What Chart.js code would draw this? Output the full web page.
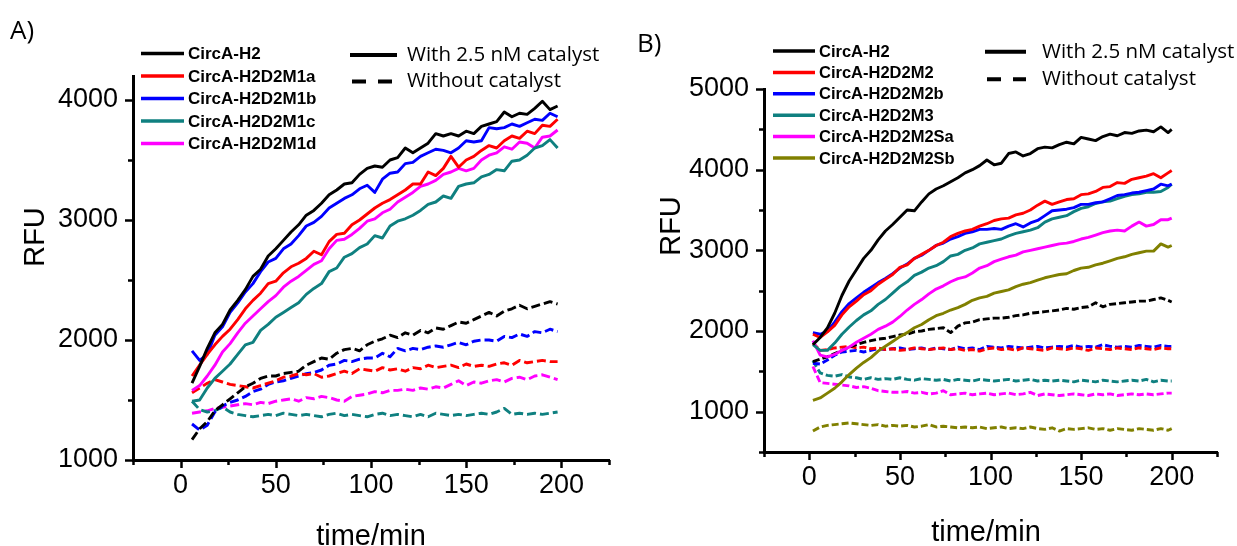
<!DOCTYPE html>
<html><head><meta charset="utf-8">
<script src="https://cdn.jsdelivr.net/npm/chart.js@4.4.0/dist/chart.umd.min.js"></script>
<style>
html,body{margin:0;padding:0;background:#fff;width:1237px;height:546px;overflow:hidden}
#ca{position:absolute;left:0;top:0}
#cb{position:absolute;left:620px;top:0}
</style></head><body>
<canvas id="ca" width="620" height="546"></canvas>
<canvas id="cb" width="617" height="546"></canvas>
<script>
// ---------- Panel A data ----------
const tA = [6,10,14,18,22,26,30,34,38,42,46,50,54,58,62,66,70,74,78,82,86,90,94,98,102,106,110,114,118,122,126,130,134,138,142,146,150,154,158,162,166,170,174,178,182,186,190,194,198];
const A_H2    = [1640,1780,1930,2060,2130,2250,2330,2420,2530,2590,2700,2760,2830,2900,2960,3040,3080,3140,3210,3250,3300,3310,3380,3430,3450,3440,3500,3520,3600,3560,3600,3640,3720,3700,3720,3700,3740,3720,3780,3800,3820,3900,3860,3890,3880,3930,3990,3920,3950];
const A_M1a   = [1700,1790,1880,1960,2030,2090,2170,2260,2330,2390,2470,2490,2560,2610,2640,2680,2740,2710,2820,2880,2890,2960,3000,3050,3100,3140,3170,3210,3250,3300,3300,3400,3370,3430,3530,3440,3500,3530,3580,3620,3600,3660,3700,3680,3740,3720,3790,3780,3840];
const A_M1b   = [1910,1830,1880,2040,2110,2230,2310,2400,2470,2570,2650,2680,2760,2800,2870,2950,2980,3030,3100,3140,3180,3210,3260,3290,3230,3340,3390,3400,3470,3480,3530,3560,3590,3580,3560,3600,3660,3650,3660,3770,3760,3770,3800,3780,3810,3840,3830,3890,3860];
const A_M1c   = [1490,1500,1600,1680,1740,1800,1880,1960,1980,2080,2130,2190,2230,2270,2310,2380,2430,2470,2570,2600,2690,2720,2770,2800,2870,2850,2950,2990,3010,3040,3080,3130,3150,3200,3180,3280,3300,3310,3360,3380,3420,3410,3490,3500,3540,3600,3620,3670,3600];
const A_M1d   = [1580,1620,1700,1790,1900,1970,2060,2140,2200,2260,2320,2370,2440,2490,2530,2580,2630,2660,2760,2830,2840,2880,2930,2990,3010,3060,3090,3150,3190,3230,3280,3300,3330,3380,3400,3430,3410,3430,3500,3540,3560,3610,3590,3650,3640,3600,3690,3700,3750];
const A_H2_n  = [1170,1260,1320,1410,1460,1510,1560,1610,1640,1680,1700,1700,1720,1730,1740,1790,1820,1850,1840,1890,1920,1930,1910,1960,1990,2010,2040,2020,2060,2040,2080,2060,2100,2090,2120,2150,2140,2170,2200,2230,2200,2240,2260,2290,2260,2280,2300,2320,2300];
const A_M1a_n = [1560,1600,1640,1670,1650,1630,1620,1610,1600,1620,1640,1660,1690,1700,1720,1710,1720,1690,1700,1720,1740,1720,1760,1750,1740,1770,1750,1760,1740,1770,1760,1790,1770,1780,1790,1770,1800,1780,1790,1780,1800,1810,1790,1830,1810,1820,1830,1820,1820];
const A_M1b_n = [1300,1250,1290,1400,1450,1480,1500,1530,1570,1590,1630,1650,1660,1680,1700,1720,1730,1750,1790,1800,1830,1820,1840,1850,1850,1890,1860,1930,1910,1930,1920,1940,1950,1940,1960,1980,1960,1990,2000,2000,1990,2030,2020,2050,2030,2070,2060,2090,2070];
const A_M1c_n = [1490,1420,1400,1410,1440,1400,1380,1370,1360,1370,1380,1370,1390,1380,1370,1380,1370,1360,1380,1390,1370,1380,1370,1360,1380,1390,1370,1380,1370,1360,1380,1360,1390,1380,1370,1380,1370,1380,1390,1380,1400,1430,1380,1390,1380,1390,1380,1390,1400];
const A_M1d_n = [1390,1400,1410,1430,1440,1450,1460,1470,1460,1480,1470,1490,1500,1510,1490,1520,1510,1530,1520,1500,1490,1530,1540,1550,1570,1560,1580,1580,1590,1580,1600,1590,1610,1600,1630,1660,1620,1650,1640,1660,1670,1650,1680,1690,1670,1700,1710,1690,1670];

// ---------- Panel B data ----------
const tB = [2,6,10,14,18,22,26,30,34,38,42,46,50,54,58,62,66,70,74,78,82,86,90,94,98,102,106,110,114,118,122,126,130,134,138,142,146,150,154,158,162,166,170,174,178,182,186,190,194,198,200];
const B_H2    = [1830,1920,2040,2220,2440,2620,2760,2900,3000,3130,3240,3320,3410,3500,3490,3600,3700,3760,3800,3850,3900,3960,4000,4050,4120,4060,4080,4200,4220,4170,4200,4260,4280,4270,4310,4340,4320,4400,4380,4360,4410,4440,4420,4460,4450,4480,4490,4470,4530,4460,4500];
const B_M2    = [1960,1920,1990,2070,2200,2300,2370,2450,2500,2580,2640,2700,2790,2820,2900,2950,3000,3060,3100,3170,3210,3240,3260,3300,3330,3370,3390,3400,3440,3460,3500,3560,3610,3570,3600,3630,3640,3690,3700,3730,3780,3790,3840,3830,3880,3900,3920,3950,3900,3960,3990];
const B_M2b   = [1980,1960,2000,2110,2240,2340,2410,2480,2540,2600,2650,2710,2780,2830,2900,2940,3000,3060,3090,3140,3170,3210,3230,3260,3260,3270,3260,3300,3330,3290,3340,3370,3430,3490,3500,3510,3530,3570,3570,3590,3600,3640,3680,3690,3710,3720,3740,3760,3820,3800,3820];
const B_M3    = [1830,1760,1760,1850,1960,2050,2130,2200,2250,2330,2390,2470,2550,2610,2690,2730,2780,2810,2860,2930,2950,3000,3030,3080,3100,3120,3140,3180,3210,3230,3250,3280,3350,3390,3410,3430,3480,3520,3540,3580,3600,3610,3640,3670,3690,3700,3720,3720,3730,3780,3820];
const B_M2Sa  = [1880,1700,1680,1710,1760,1800,1860,1910,1960,2020,2060,2110,2180,2260,2330,2390,2460,2520,2560,2610,2650,2670,2720,2780,2810,2860,2890,2920,2940,2980,3000,3020,3040,3060,3080,3090,3110,3140,3160,3190,3220,3240,3250,3240,3300,3350,3300,3320,3380,3380,3400];
const B_M2Sb  = [1140,1170,1230,1290,1370,1460,1540,1610,1670,1750,1810,1870,1930,1980,2040,2080,2140,2190,2220,2260,2290,2330,2380,2410,2430,2470,2490,2510,2550,2580,2600,2630,2660,2680,2700,2710,2750,2780,2790,2820,2840,2870,2900,2920,2950,2970,2990,2990,3080,3040,3060];
const B_H2_n  = [1620,1650,1680,1720,1760,1800,1830,1860,1880,1900,1910,1930,1950,1960,1990,2000,2020,2030,2040,1980,2060,2100,2110,2140,2150,2160,2160,2170,2190,2200,2220,2230,2240,2250,2260,2280,2270,2290,2300,2350,2300,2330,2340,2350,2360,2370,2370,2390,2410,2380,2360];
const B_M2_n  = [1850,1760,1770,1790,1800,1810,1790,1800,1780,1790,1770,1780,1760,1770,1790,1780,1770,1780,1790,1770,1780,1760,1770,1750,1780,1790,1770,1780,1760,1790,1780,1770,1760,1790,1780,1770,1790,1780,1760,1790,1780,1770,1790,1780,1770,1790,1780,1770,1790,1780,1780];
const B_M2b_n = [1600,1590,1640,1700,1740,1750,1760,1740,1760,1780,1770,1780,1790,1770,1780,1790,1770,1790,1780,1770,1800,1780,1790,1770,1810,1800,1790,1810,1800,1790,1800,1810,1790,1800,1810,1800,1820,1800,1810,1800,1830,1810,1800,1810,1800,1820,1810,1800,1820,1810,1810];
const B_M3_n  = [1630,1480,1450,1440,1460,1430,1420,1400,1420,1400,1410,1400,1420,1400,1390,1410,1400,1390,1400,1380,1400,1390,1380,1400,1390,1380,1390,1400,1380,1390,1400,1380,1390,1380,1390,1380,1370,1390,1380,1370,1390,1380,1370,1380,1390,1380,1400,1370,1390,1380,1380];
const B_M2Sa_n= [1560,1360,1350,1340,1330,1320,1300,1310,1290,1260,1250,1240,1240,1250,1230,1240,1220,1230,1260,1210,1220,1230,1210,1220,1230,1210,1220,1230,1210,1220,1240,1200,1220,1210,1200,1210,1220,1210,1200,1220,1210,1220,1200,1210,1220,1210,1220,1210,1220,1230,1230];
const B_M2Sb_n= [760,810,830,840,850,860,850,840,830,840,820,830,820,830,810,820,840,810,820,810,800,810,800,810,790,800,810,790,800,790,810,790,780,800,760,790,780,790,800,780,790,770,790,780,770,790,780,770,790,770,790];

// ---------- ticks / labels ----------
const xTickValues  = [-25,0,25,50,75,100,125,150,175,200,225];
const xTickLabels  = [0,50,100,150,200];
const yTickValuesA = [1000,1500,2000,2500,3000,3500,4000];
const yTickLabelsA = [1000,2000,3000,4000];
const yTickValuesB = [500,1000,1500,2000,2500,3000,3500,4000,4500,5000];
const yTickLabelsB = [1000,2000,3000,4000,5000];
const namesA = ['CircA-H2','CircA-H2D2M1a','CircA-H2D2M1b','CircA-H2D2M1c','CircA-H2D2M1d'];
const namesB = ['CircA-H2','CircA-H2D2M2','CircA-H2D2M2b','CircA-H2D2M3','CircA-H2D2M2Sa','CircA-H2D2M2Sb'];
const condNames = ['With 2.5 nM catalyst','Without catalyst'];

const C = {k:'#000000', r:'#ff0000', b:'#0000ff', t:'#0f8080', m:'#ff00ff', o:'#808000'};
const FONT = '"Liberation Sans", Arial, sans-serif';

function pts(t, v){ return v.map((y,i)=>({x:t[i], y})); }
function ds(t, v, color, dashed, dash){
  return {data:pts(t,v), borderColor:color, borderWidth:2.9, pointRadius:0, tension:0,
          borderJoinStyle:'round', borderDash: dashed ? dash : [], fill:false};
}
function isLabel(list, v){ return list.some(l => Math.abs(l - v) < 1e-6); }

function decoPlugin(cfg){
  return {id:'deco', afterDraw(chart){
    const ctx = chart.ctx, xs = chart.scales.x, ys = chart.scales.y, ca = chart.chartArea;
    ctx.save();
    ctx.strokeStyle = '#000'; ctx.lineWidth = 2.5;
    // y tick marks (from the scale's own ticks)
    ys.ticks.forEach(tk => {
      const v = tk.value;
      const p = Math.round(ys.getPixelForValue(v)) + 0.5;
      const L = isLabel(cfg.yLabels, v) ? 8 : 5;
      ctx.beginPath(); ctx.moveTo(ca.left - L, p); ctx.lineTo(ca.left, p); ctx.stroke();
    });
    // x tick marks
    xs.ticks.forEach(tk => {
      const v = tk.value;
      const p = Math.round(xs.getPixelForValue(v)) + 0.5;
      const L = isLabel(xTickLabels, v) ? 8 : 5;
      ctx.beginPath(); ctx.moveTo(p, ca.bottom); ctx.lineTo(p, ca.bottom + L); ctx.stroke();
    });
    ctx.fillStyle = '#000';
    // axis titles
    ctx.font = '29px ' + FONT; ctx.textAlign = 'center'; ctx.textBaseline = 'middle';
    ctx.fillText('time/min', cfg.xt[0], cfg.xt[1]);
    ctx.save(); ctx.translate(cfg.yt[0], cfg.yt[1]); ctx.rotate(-Math.PI/2);
    ctx.fillText('RFU', 0, 0); ctx.restore();
    // panel label
    ctx.font = '26px "Open Sans", ' + FONT; ctx.textAlign = 'left';
    ctx.fillText(cfg.panel, cfg.pl[0], cfg.pl[1]);
    // series legend
    ctx.font = 'bold ' + cfg.lf + 'px ' + FONT;
    cfg.names.forEach((n,i)=>{
      const y = cfg.ly0 + i*cfg.ldy;
      ctx.strokeStyle = cfg.colors[i]; ctx.lineWidth = 3.5; ctx.setLineDash([]);
      ctx.beginPath(); ctx.moveTo(cfg.lx0, y); ctx.lineTo(cfg.lx1, y); ctx.stroke();
      ctx.fillStyle = '#000'; ctx.fillText(n, cfg.ltx, y + 1);
    });
    // condition legend
    ctx.font = cfg.cf + 'px "Open Sans", ' + FONT;
    ctx.strokeStyle = '#000'; ctx.lineWidth = 4;
    ctx.beginPath(); ctx.moveTo(cfg.cx0, cfg.cy[0]); ctx.lineTo(cfg.cx1, cfg.cy[0]); ctx.stroke();
    ctx.setLineDash([14, 12]);
    ctx.beginPath(); ctx.moveTo(cfg.cx0 + 2, cfg.cy[1]); ctx.lineTo(cfg.cx1, cfg.cy[1]); ctx.stroke();
    ctx.setLineDash([]);
    ctx.fillText(condNames[0], cfg.ctx, cfg.cy[0]);
    ctx.fillText(condNames[1], cfg.ctx, cfg.cy[1]);
    ctx.restore();
  }};
}

function makeChart(id, datasets, yMin, yMax, yValues, yLabels, yw, xh, pad, deco){
  deco.yLabels = yLabels;
  return new Chart(document.getElementById(id), {
    type:'line',
    data:{datasets},
    options:{
      responsive:false, animation:false, events:[],
      layout:{padding:pad},
      plugins:{legend:{display:false}, tooltip:{enabled:false}},
      scales:{
        x:{type:'linear', min:-25, max:225, afterFit(s){ s.height = xh; },
           afterBuildTicks(s){ s.ticks = xTickValues.map(v => ({value:v})); },
           grid:{display:false, drawTicks:false}, border:{display:true, color:'#000', width:3},
           ticks:{autoSkip:false, maxRotation:0, minRotation:0, padding:9, color:'#000',
                  font:{family:FONT, size:27},
                  callback:(v)=> isLabel(xTickLabels, v) ? String(Math.round(v)) : ''}},
        y:{type:'linear', min:yMin, max:yMax, afterFit(s){ s.width = yw; },
           afterBuildTicks(s){ s.ticks = yValues.map(v => ({value:v})); },
           grid:{display:false, drawTicks:false}, border:{display:true, color:'#000', width:3},
           ticks:{autoSkip:false, padding:15, color:'#000',
                  font:{family:FONT, size:27},
                  callback:(v)=> isLabel(yLabels, v) ? String(Math.round(v)) : ''}}
      }
    },
    plugins:[decoPlugin(deco)]
  });
}

const dA = [9,4];
makeChart('ca', [
  ds(tA, A_H2, C.k, false), ds(tA, A_M1a, C.r, false), ds(tA, A_M1b, C.b, false),
  ds(tA, A_M1c, C.t, false), ds(tA, A_M1d, C.m, false),
  ds(tA, A_H2_n, C.k, true, dA), ds(tA, A_M1a_n, C.r, true, dA), ds(tA, A_M1b_n, C.b, true, dA),
  ds(tA, A_M1c_n, C.t, true, dA), ds(tA, A_M1d_n, C.m, true, dA)
], 1000, 4200, yTickValuesA, yTickLabelsA, 133, 86, {top:76, right:11, left:0, bottom:0}, {
  xt:[371,537], yt:[36,237], panel:'A)', pl:[10,32],
  names:namesA, colors:[C.k,C.r,C.b,C.t,C.m], lf:17, ly0:53.5, ldy:22.5, lx0:141, lx1:184, ltx:188,
  cf:20.5, cx0:350, cx1:397, ctx:407, cy:[55,81.5]
});

const dB = [7,3];
makeChart('cb', [
  ds(tB, B_H2, C.k, false), ds(tB, B_M2, C.r, false), ds(tB, B_M2b, C.b, false),
  ds(tB, B_M3, C.t, false), ds(tB, B_M2Sa, C.m, false), ds(tB, B_M2Sb, C.o, false),
  ds(tB, B_H2_n, C.k, true, dB), ds(tB, B_M2_n, C.r, true, dB), ds(tB, B_M2b_n, C.b, true, dB),
  ds(tB, B_M3_n, C.t, true, dB), ds(tB, B_M2Sa_n, C.m, true, dB), ds(tB, B_M2Sb_n, C.o, true, dB)
], 500, 5000, yTickValuesB, yTickLabelsB, 144, 94, {top:89, right:20, left:0, bottom:0}, {
  xt:[366,533], yt:[52,226], panel:'B)', pl:[17,45],
  names:namesB, colors:[C.k,C.r,C.b,C.t,C.m,C.o], lf:16.5, ly0:51, ldy:21.4, lx0:153, lx1:195, ltx:199,
  cf:20.5, cx0:365, cx1:406, ctx:422, cy:[51.7,79.3]
});
</script>
</body></html>
